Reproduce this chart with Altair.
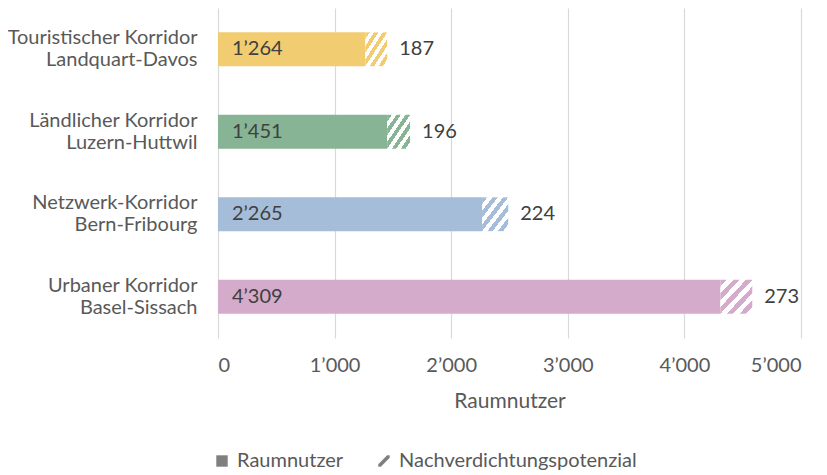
import altair as alt
import pandas as pd

# ---- data ----
line1 = ["Touristischer Korridor", "Ländlicher Korridor", "Netzwerk-Korridor", "Urbaner Korridor"]
line2 = ["Landquart-Davos", "Luzern-Huttwil", "Bern-Fribourg", "Basel-Sissach"]
raumnutzer = [1264, 1451, 2265, 4309]
potenzial = [187, 196, 224, 273]
bar_colors = ["#F1CC70", "#86B495", "#A5BDD8", "#D4ABCA"]
legend_items = ["Raumnutzer", "Nachverdichtungspotenzial"]
x_ticks = [0, 1000, 2000, 3000, 4000, 5000]

FONT = "Lato"
TXT = "#595959"
FS = 20

cats = [a + "|" + b for a, b in zip(line1, line2)]
df = pd.DataFrame({
    "cat": cats,
    "r": raumnutzer,
    "p": potenzial,
})
df["end"] = df["r"] + df["p"]
df["zero"] = 0

fmt = "replace(format({}, ','), ',', '\u2019')"

base = alt.Chart(df).transform_calculate(
    lab_r=fmt.format("datum.r"),
    lab_p=fmt.format("datum.p"),
)

y_enc = alt.Y(
    "cat:N",
    sort=cats,
    scale=alt.Scale(paddingInner=0.59, paddingOuter=0.295),
    axis=alt.Axis(
        title=None, domain=False, ticks=False, grid=False,
        labelExpr="split(datum.label, '|')",
        labelFont=FONT, labelFontSize=FS, labelColor=TXT,
        labelPadding=21, labelLimit=400, labelLineHeight=22,
        labelAlign="right", labelOffset=-11,
    ),
)

x_scale = alt.Scale(domain=[0, 5000], nice=False)
x_axis = alt.Axis(
    values=x_ticks, grid=True, gridColor="#D9D9D9", gridWidth=1.2,
    domain=False, ticks=False,
    labelExpr=fmt.format("datum.value"),
    labelFont=FONT, labelFontSize=FS, labelColor=TXT, labelPadding=17,
    title="Raumnutzer", titleFont=FONT, titleFontSize=21, titleColor=TXT,
    titleFontWeight="normal", titlePadding=15,
)

solid = base.mark_bar().encode(
    x=alt.X("r:Q", scale=x_scale, axis=x_axis),
    y=y_enc,
    color=alt.Color("cat:N", scale=alt.Scale(domain=cats, range=bar_colors), legend=None),
)

def hatch(col, n=5):
    stops = []
    for k in range(n):
        a = k / n
        b = (k + 0.5) / n
        c = (k + 1) / n
        stops += [
            alt.GradientStop(color=col, offset=a),
            alt.GradientStop(color=col, offset=b),
            alt.GradientStop(color="#FFFFFF", offset=b),
            alt.GradientStop(color="#FFFFFF", offset=c),
        ]
    return alt.LinearGradient(gradient="linear", stops=stops, x1=0, y1=0, x2=1, y2=1)

hatched_layers = []
for c, col in zip(cats, bar_colors):
    hatched_layers.append(
        base.transform_filter(alt.datum.cat == c).mark_bar(fill=hatch(col)).encode(
            x=alt.X("r:Q", scale=x_scale),
            x2="end:Q",
            y=alt.Y("cat:N", sort=cats),
        )
    )

inner_text = base.mark_text(align="left", baseline="middle", dx=14, font=FONT,
                            fontSize=FS, color="#404040").encode(
    x=alt.X("zero:Q", scale=x_scale),
    y=alt.Y("cat:N", sort=cats),
    text="lab_r:N",
)

outer_text = base.mark_text(align="left", baseline="middle", dx=12, font=FONT,
                            fontSize=FS, color="#404040").encode(
    x=alt.X("end:Q", scale=x_scale),
    y=alt.Y("cat:N", sort=cats),
    text="lab_p:N",
)

leg = alt.Legend(
    title=None, orient="none", legendX=-6, legendY=443, direction="horizontal",
    labelFont=FONT, labelFontSize=FS, labelColor=TXT, labelLimit=400,
    symbolSize=130, symbolOpacity=1, columnPadding=30, labelOffset=5,
    symbolStrokeWidth=0,
)

leg_df = pd.DataFrame({"item": legend_items})
legend_layer = alt.Chart(leg_df).mark_point(filled=True, opacity=0).encode(
    fill=alt.Fill(
        "item:N",
        scale=alt.Scale(domain=legend_items, range=["#7F7F7F", "#7F7F7F"]),
        legend=leg,
    ),
    shape=alt.Shape(
        "item:N",
        scale=alt.Scale(domain=legend_items,
                        range=["square", "M-1,0.55L0.55,-1L1,-1L1,-0.55L-0.55,1L-1,1Z"]),
        legend=leg,
    ),
)

chart = alt.layer(solid, *hatched_layers, inner_text, outer_text, legend_layer).properties(
    width=583, height=330,
    autosize=alt.AutoSizeParams(type="none"),
    padding={"left": 210, "top": 0, "right": 18, "bottom": 136},
).configure_view(stroke=None)

chart.save("out.html", embed_options={"renderer": "svg", "actions": False})
